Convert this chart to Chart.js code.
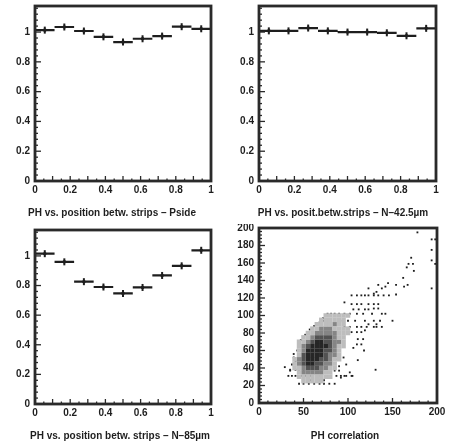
<!DOCTYPE html>
<html>
<head>
<meta charset="utf-8">
<script src="https://cdn.jsdelivr.net/npm/chart.js@4.4.1/dist/chart.umd.min.js"></script>
<style>
  body { margin: 0; background: #fff; width: 451px; height: 448px; position: relative; overflow: hidden; }
  canvas { position: absolute; }
</style>
</head>
<body>
<canvas id="c1" width="225" height="224" style="left:0;top:0"></canvas>
<canvas id="c2" width="226" height="224" style="left:225px;top:0"></canvas>
<canvas id="c3" width="225" height="224" style="left:0;top:224px"></canvas>
<canvas id="c4" width="226" height="224" style="left:225px;top:224px"></canvas>
<script>
// pulse height vs position between strips, 9 bins over 0..1
const phPside = [1.013, 1.034, 1.007, 0.968, 0.933, 0.955, 0.973, 1.036, 1.022];
const phN425  = [1.008, 1.008, 1.027, 1.008, 1.0, 1.0, 0.995, 0.975, 1.025];
const phN85   = [1.015, 0.96, 0.826, 0.79, 0.747, 0.787, 0.868, 0.933, 1.038];

const posTicks = [0, 0.2, 0.4, 0.6, 0.8, 1];
const phTicks = [0, 0.2, 0.4, 0.6, 0.8, 1];
const corrTicksX = [0, 50, 100, 150, 200];
const corrTicksY = [0, 20, 40, 60, 80, 100, 120, 140, 160, 180, 200];

// PH correlation: dense part read as 5x5 cells (darkness 0-4)
const cellX = [40, 45, 50, 55, 60, 65, 70, 75, 80, 85, 90, 95, 100];
const cellY = [100, 95, 90, 85, 80, 75, 70, 65, 60, 55, 50, 45, 40, 35, 30, 25];
const cellShade = [
  [0, 0, 0, 0, 0, 0, 0, 1, 1, 1, 1, 1, 1],
  [0, 0, 0, 0, 0, 0, 1, 1, 1, 1, 1, 1, 0],
  [0, 0, 0, 0, 0, 1, 1, 1, 1, 2, 1, 1, 0],
  [0, 0, 0, 0, 1, 1, 2, 2, 2, 1, 1, 1, 1],
  [0, 0, 0, 1, 1, 2, 2, 2, 2, 2, 1, 1, 1],
  [0, 0, 1, 1, 2, 3, 3, 3, 3, 2, 1, 1, 0],
  [0, 1, 1, 2, 3, 4, 4, 3, 3, 2, 2, 1, 0],
  [0, 1, 2, 3, 4, 4, 4, 4, 3, 2, 1, 1, 0],
  [0, 1, 2, 4, 4, 4, 4, 3, 3, 2, 1, 0, 0],
  [0, 1, 3, 4, 4, 4, 4, 3, 2, 2, 1, 0, 0],
  [1, 2, 3, 4, 4, 4, 3, 3, 2, 1, 1, 0, 0],
  [1, 2, 3, 4, 4, 3, 3, 2, 2, 1, 0, 0, 0],
  [1, 1, 2, 3, 3, 3, 2, 2, 1, 1, 0, 0, 0],
  [0, 1, 2, 2, 2, 2, 2, 1, 1, 0, 0, 0, 0],
  [0, 1, 1, 1, 1, 1, 1, 1, 1, 0, 0, 0, 0],
  [0, 0, 1, 1, 1, 1, 1, 0, 0, 0, 0, 0, 0]
];
// single events outside the dense part
const corrX = [178, 194, 198, 194, 171, 194, 198, 168, 173, 166, 174, 162, 167, 163, 194, 154, 154, 145, 134, 138, 142, 132, 129, 123,
  104, 110, 115, 119, 123, 129, 134, 140, 146, 96, 104, 110, 115, 123, 129, 134, 129, 134, 106, 112, 119, 123,
  77, 81, 85, 90, 96, 102, 110, 117, 127, 138, 142, 73, 81, 89, 94, 100, 108, 119, 129, 136, 150,
  132, 123, 119, 96, 102, 110, 115, 121, 129, 132, 138, 104, 110, 115, 111, 117,
  110, 115, 106, 118, 111, 131, 102, 105, 96, 92, 29, 35, 37, 39, 41, 39, 37, 43,
  33, 41, 47, 52, 58, 64, 69, 75, 81, 87, 92, 98, 104, 45, 50, 56, 62, 68, 73, 79, 85, 58, 69, 73,
  35, 41, 45, 50, 85, 90, 44, 47, 52, 57, 62, 68, 72, 80, 88, 95, 98, 90];
const corrY = [195, 187, 187, 175, 166, 163, 159, 159, 159, 155, 151, 143, 135, 133, 131, 135, 124, 137, 135, 131, 133, 127, 125, 131,
  123, 123, 123, 123, 123, 123, 123, 123, 123, 115, 113, 113, 113, 113, 113, 113, 108, 108, 107, 107, 107, 107,
  102, 102, 102, 102, 102, 102, 102, 102, 102, 102, 102, 94, 94, 94, 94, 94, 94, 94, 94, 94, 94,
  90, 90, 83, 87, 87, 87, 87, 87, 87, 87, 87, 81, 81, 81, 73, 73,
  67, 67, 63, 60, 49, 38, 35, 31, 31, 29, 41, 37, 31, 52, 48, 56, 44, 60,
  31, 31, 31, 31, 31, 31, 31, 31, 31, 31, 31, 31, 31, 22, 22, 22, 22, 22, 22, 22, 22, 26, 26, 26,
  38, 38, 38, 38, 37, 37, 66, 72, 78, 84, 88, 92, 97, 100, 50, 52, 44, 42];

const ink = '#1e1e1e';
const fontFamily = '"Liberation Sans", Arial, sans-serif';
const shadeColors = [null, '#bdbdbd', '#858585', '#525252', '#262626'];

// frame and inside ticks, PAW style, plus the caption under each pad
const framePlugin = {
  id: 'frame',
  afterDatasetsDraw(chart, args, opts) {
    const { ctx, chartArea: a, scales } = chart;
    ctx.save();
    ctx.strokeStyle = '#2a2a2a';
    ctx.lineWidth = 1.3;
    const xs = scales.x, ys = scales.y;
    for (let v = xs.min; v <= xs.max + 1e-9; v += opts.xMinor) {
      const major = Math.abs(v / opts.xMajor - Math.round(v / opts.xMajor)) < 1e-6;
      const px = xs.getPixelForValue(v);
      ctx.beginPath();
      ctx.moveTo(px, a.bottom);
      ctx.lineTo(px, a.bottom - (major ? 5 : 2.5));
      ctx.stroke();
    }
    for (let v = ys.min; v <= ys.max + 1e-9; v += opts.yMinor) {
      const major = Math.abs(v / opts.yMajor - Math.round(v / opts.yMajor)) < 1e-6;
      const py = ys.getPixelForValue(v);
      ctx.beginPath();
      ctx.moveTo(a.left, py);
      ctx.lineTo(a.left + (major ? 6 : 3), py);
      ctx.stroke();
    }
    ctx.lineWidth = 2.8;
    ctx.strokeRect(a.left, a.top, a.width, a.height);
    ctx.restore();
  },
  afterDraw(chart, args, opts) {
    const ctx = chart.ctx;
    ctx.save();
    ctx.fillStyle = ink;
    ctx.font = 'bold 10px ' + fontFamily;
    ctx.textAlign = 'center';
    ctx.textBaseline = 'middle';
    ctx.fillText(opts.caption, opts.captionX, opts.captionY);
    ctx.restore();
  }
};

function makeChart(id, pane, datasets, xAxis, yAxis, caption, ticksOpts) {
  const yw = pane.plotL - pane.left;
  const pr = pane.left + pane.w - pane.plotR;
  const pt = pane.plotT - pane.top;
  const xh = 224 - (pane.plotB - pane.top);
  const tickFont = { family: fontFamily, size: 10, weight: 'bold' };
  return new Chart(document.getElementById(id), {
    type: 'scatter',
    data: { datasets },
    options: {
      responsive: false,
      animation: false,
      layout: { padding: { left: 0, right: pr, top: pt, bottom: 0 } },
      plugins: {
        legend: { display: false },
        tooltip: { enabled: false },
        frame: Object.assign({ caption, captionX: pane.titleX - pane.left, captionY: pane.titleY - pane.top }, ticksOpts)
      },
      scales: {
        x: {
          type: 'linear', min: xAxis.min, max: xAxis.max,
          grid: { display: false, drawTicks: false }, border: { display: false },
          ticks: { color: ink, font: tickFont, padding: 3, maxRotation: 0, autoSkip: false, callback: v => String(v) },
          afterBuildTicks: s => { s.ticks = xAxis.ticks.map(v => ({ value: v })); },
          afterFit: s => { s.height = xh; s.paddingLeft = 0; s.paddingRight = 0; }
        },
        y: {
          type: 'linear', min: yAxis.min, max: yAxis.max,
          grid: { display: false, drawTicks: false }, border: { display: false },
          ticks: { color: ink, font: tickFont, padding: 5, autoSkip: false, callback: v => String(v) },
          afterBuildTicks: s => { s.ticks = yAxis.ticks.map(v => ({ value: v })); },
          afterFit: s => { s.width = yw; s.paddingTop = 0; s.paddingBottom = 0; }
        }
      }
    },
    plugins: [framePlugin]
  });
}

function histDatasets(vals) {
  const w = 1 / vals.length;
  const seg = [];
  const mid = [];
  vals.forEach((v, i) => {
    seg.push({ x: i * w, y: v }, { x: (i + 1) * w, y: v }, { x: (i + 1) * w, y: null });
    mid.push({ x: (i + 0.5) * w, y: v });
  });
  return [
    { data: seg, showLine: true, spanGaps: false, borderColor: ink, borderWidth: 2.2, pointRadius: 0 },
    { data: mid, pointStyle: 'line', rotation: 90, pointRadius: 3.5, borderColor: ink, borderWidth: 2 },
    { data: mid, pointStyle: 'circle', pointRadius: 1.8, backgroundColor: ink, borderColor: ink, borderWidth: 0 }
  ];
}

const posAxis = { min: 0, max: 1, ticks: posTicks };
const phAxis = { min: 0, max: 1.175, ticks: phTicks };
const histTicks = { xMinor: 0.05, xMajor: 0.1, yMinor: 0.04, yMajor: 0.2 };

makeChart('c1', { left: 0, top: 0, w: 225, plotL: 35, plotR: 211, plotT: 5, plotB: 181, titleX: 112, titleY: 213 },
  histDatasets(phPside), posAxis, phAxis, 'PH vs. position betw. strips – Pside', histTicks);
makeChart('c2', { left: 225, top: 0, w: 226, plotL: 259, plotR: 436, plotT: 5, plotB: 181, titleX: 343, titleY: 213 },
  histDatasets(phN425), posAxis, phAxis, 'PH vs. posit.betw.strips – N–42.5µm', histTicks);
makeChart('c3', { left: 0, top: 224, w: 225, plotL: 35, plotR: 211, plotT: 229, plotB: 404, titleX: 120, titleY: 436 },
  histDatasets(phN85), posAxis, phAxis, 'PH vs. position betw. strips – N–85µm', histTicks);

// correlation scatter
const cellsByShade = [1, 2, 3, 4].map(s => {
  const pts = [];
  cellY.forEach((y, r) => cellX.forEach((x, c) => { if (cellShade[r][c] === s) pts.push({ x, y }); }));
  return { data: pts, pointStyle: 'rect', pointRadius: 3.2, backgroundColor: shadeColors[s], borderWidth: 0 };
});
const singles = corrX.map((x, i) => ({ x, y: corrY[i] }));
makeChart('c4', { left: 225, top: 224, w: 226, plotL: 259, plotR: 437, plotT: 228, plotB: 403, titleX: 345, titleY: 436 },
  [...cellsByShade, { data: singles, pointStyle: 'rect', pointRadius: 1.3, backgroundColor: ink, borderWidth: 0 }],
  { min: 0, max: 200, ticks: corrTicksX }, { min: 0, max: 200, ticks: corrTicksY }, 'PH correlation',
  { xMinor: 10, xMajor: 50, yMinor: 4, yMajor: 20 });
</script>
</body>
</html>
